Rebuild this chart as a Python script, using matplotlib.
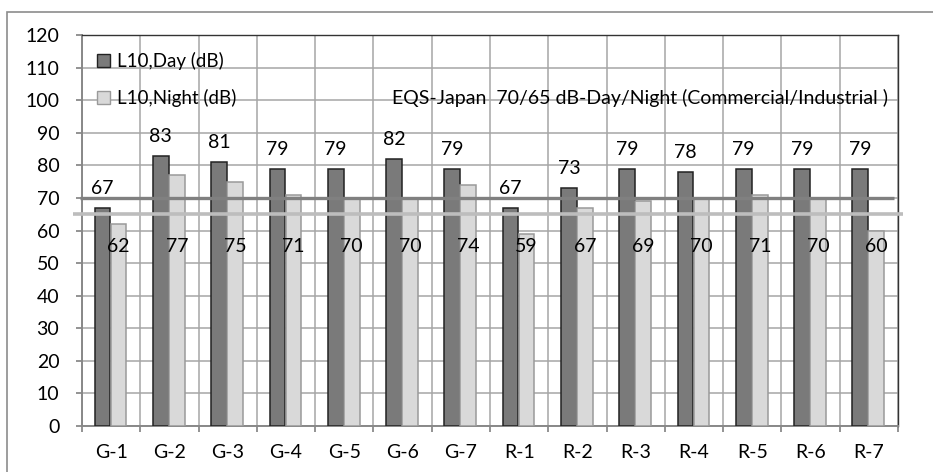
"""
L10 day/night noise levels at the G and R monitoring stations, compared with
the Japanese environmental quality standard for commercial/industrial zones.
"""

import matplotlib.pyplot as plt
import numpy as np
from matplotlib.patches import Patch, Rectangle

STATIONS = ["G-1", "G-2", "G-3", "G-4", "G-5", "G-6", "G-7",
            "R-1", "R-2", "R-3", "R-4", "R-5", "R-6", "R-7"]
L10_DAY = [67, 83, 81, 79, 79, 82, 79, 67, 73, 79, 78, 79, 79, 79]
L10_NIGHT = [62, 77, 75, 71, 70, 70, 74, 59, 67, 69, 70, 71, 70, 60]
EQS_DAY = 70
EQS_NIGHT = 65

DAY_COLOR = "#7a7a7a"
NIGHT_COLOR = "#d9d9d9"
GRID_COLOR = "#a6a6a6"

plt.rcParams["font.family"] = ["Lato", "DejaVu Sans"]
FS = 14

fig = plt.figure(figsize=(9.33, 4.72), dpi=100)
ax = fig.add_axes([0.0879, 0.0975, 0.8746, 0.8283])

x = np.arange(len(STATIONS))
w = 0.27
day_bars = ax.bar(x - 0.148, L10_DAY, w, color=DAY_COLOR, edgecolor="#222222",
                  linewidth=1.1, zorder=3)
night_bars = ax.bar(x + 0.128, L10_NIGHT, w, color=NIGHT_COLOR,
                    edgecolor="#9a9a9a", linewidth=1.1, zorder=3)

# value labels: day above the bar, night inside the bar
for b, v in zip(day_bars, L10_DAY):
    ax.annotate(f"{v}", (b.get_x() + b.get_width() / 2, v), xytext=(0, 14),
                textcoords="offset points", ha="center", va="center",
                fontsize=FS, zorder=5)
for b, v in zip(night_bars, L10_NIGHT):
    ax.text(b.get_x() + b.get_width() / 2, 55, f"{v}", ha="center",
            va="center", fontsize=FS, zorder=5)

# standard limits
ax.plot([-0.534, 13.43], [EQS_DAY, EQS_DAY], color="#808080", lw=2.4,
        zorder=4, clip_on=False, solid_capstyle="butt")
ax.plot([-0.654, 13.586], [EQS_NIGHT, EQS_NIGHT], color="#bdbdbd", lw=2.6,
        zorder=4, clip_on=False, solid_capstyle="butt")

ax.set_xlim(-0.5, len(STATIONS) - 0.5)
ax.set_ylim(0, 120)
ax.set_yticks(range(0, 121, 10))
ax.set_xticks(x)
ax.set_xticklabels(STATIONS)
ax.set_xticks(np.arange(-0.5, len(STATIONS), 1), minor=True)
ax.tick_params(axis="x", which="major", length=0, pad=13, labelsize=FS)
ax.tick_params(axis="x", which="minor", length=4.3, width=1.2,
               color="#808080", direction="out")
ax.tick_params(axis="y", length=4.3, width=1.2, color="#808080", pad=12,
               labelsize=FS)
ax.grid(True, axis="y", color=GRID_COLOR, lw=1.1, zorder=0)
ax.grid(True, axis="x", which="minor", color=GRID_COLOR, lw=1.1, zorder=0)
ax.set_axisbelow(True)

for side in ("top", "right"):
    ax.spines[side].set_color("#333333")
    ax.spines[side].set_linewidth(1.0)
for side in ("left", "bottom"):
    ax.spines[side].set_color("#888888")
    ax.spines[side].set_linewidth(1.4)

ax.text(0.988, 0.84, "EQS-Japan  70/65 dB-Day/Night (Commercial/Industrial )",
        transform=ax.transAxes, ha="right", va="center", fontsize=FS)

handles = [
    Patch(facecolor=DAY_COLOR, edgecolor="#222222", label="L10,Day (dB)"),
    Patch(facecolor=NIGHT_COLOR, edgecolor="#9a9a9a", label="L10,Night (dB)"),
]
ax.legend(handles=handles, loc="upper left", bbox_to_anchor=(0.005, 0.985),
          frameon=False, fontsize=FS - 0.5, handlelength=0.65,
          handleheight=0.65, handletextpad=0.4, labelspacing=1.0,
          borderaxespad=0.2)

# chart-area frame
fig.patches.append(Rectangle((7 / 933, -0.05), 1.0, (472 - 12) / 472 + 0.05,
                             transform=fig.transFigure, fill=False,
                             edgecolor="#8c8c8c", lw=1.2))

fig.savefig("out.png", dpi=100)
